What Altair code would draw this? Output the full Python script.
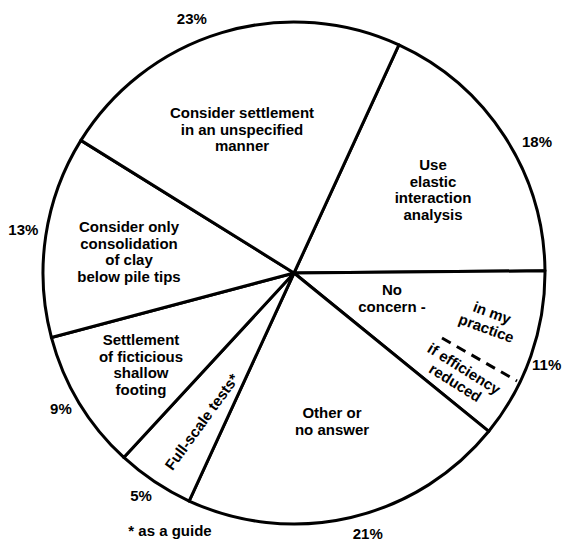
import math
import altair as alt
import pandas as pd

# ---- data ----
categories = [
    "Use elastic interaction analysis",
    "No concern",
    "Other or no answer",
    "Full-scale tests*",
    "Settlement of ficticious shallow footing",
    "Consider only consolidation of clay below pile tips",
    "Consider settlement in an unspecified manner",
]
values = [18, 11, 21, 5, 9, 13, 23]
pct_labels = ["18%", "11%", "21%", "5%", "9%", "13%", "23%"]

# layout of the percent labels: angular nudge (degrees) from slice middle, radius (px)
pct_nudge_deg = [4.6, 0.8, -2.7, 0.8, 0.8, 0.5, -5.2]
pct_radius = [276, 269, 271, 270, 270, 274, 274]

# annotation texts (slice captions)
ann_text = [
    "Consider settlement\nin an unspecified\nmanner",
    "Use\nelastic\ninteraction\nanalysis",
    "Consider only\nconsolidation\nof clay\nbelow pile tips",
    "Settlement\nof ficticious\nshallow\nfooting",
    "Full-scale tests*",
    "Other or\nno answer",
    "No\nconcern -",
    "in my\npractice",
    "if efficiency\nreduced",
    "* as a guide",
]
# layout of the captions (first-line anchor, pixels in plot area) and rotation
ann_x = [234, 425, 121, 133, 194, 324, 384, 484, 456, 162]
ann_y = [105, 157, 219, 332, 414, 405, 282, 305, 361, 523]
ann_angle = [0, 0, 0, 0, 306, 0, 0, 20, 32, 0]

W, H = 556, 533
CX, CY = 286, 265
R = 251
START = math.radians(24.7)
FONT = "Liberation Sans"

df = pd.DataFrame({"cat": categories, "value": values, "label": pct_labels,
                   "order": list(range(len(values)))})
total = df["value"].sum()
df["mid"] = df["value"].cumsum() - df["value"] / 2
df["label_pos"] = df["mid"] + pd.Series(pct_nudge_deg) / 360 * total
df["label_r"] = pct_radius

ann = pd.DataFrame({"text": ann_text, "x": ann_x, "y": ann_y, "angle": ann_angle})

theta_scale = alt.Scale(domain=[0, 100], range=[START, START + 2 * math.pi])
order = alt.Order("order:Q", sort="ascending")

arcs = alt.Chart(df).mark_arc(
    fill="white", stroke="black", strokeWidth=3, radius=R, strokeJoin="round"
).encode(
    theta=alt.Theta("value:Q", stack=True, scale=theta_scale),
    order=order, x=alt.value(CX), y=alt.value(CY),
)

pcts = alt.Chart(df).mark_text(
    font=FONT, fontSize=15, fontWeight="bold", color="black",
    align="center", baseline="middle"
).encode(
    theta=alt.Theta("label_pos:Q", stack=None, scale=theta_scale),
    radius=alt.Radius("label_r:Q", scale=None),
    text="label:N", x=alt.value(CX), y=alt.value(CY),
)

captions = alt.Chart(ann).mark_text(
    font=FONT, fontSize=15, fontWeight="bold", color="black",
    align="center", baseline="middle", lineBreak="\n", lineHeight=16.5
).encode(
    x=alt.X("x:Q", scale=None),
    y=alt.Y("y:Q", scale=None),
    angle=alt.Angle("angle:Q", scale=None),
    text="text:N",
)

dashed = alt.Chart(pd.DataFrame({"d": [0]})).mark_rule(
    color="black", strokeWidth=3, strokeDash=[10, 7]
).encode(x=alt.value(434), y=alt.value(330), x2=alt.value(509), y2=alt.value(373))

chart = alt.layer(arcs, pcts, captions, dashed).properties(
    width=W, height=H, padding=0, autosize="none", background="white"
).configure_view(stroke=None)

chart.save("out.html", embed_options={"renderer": "svg", "actions": False})
